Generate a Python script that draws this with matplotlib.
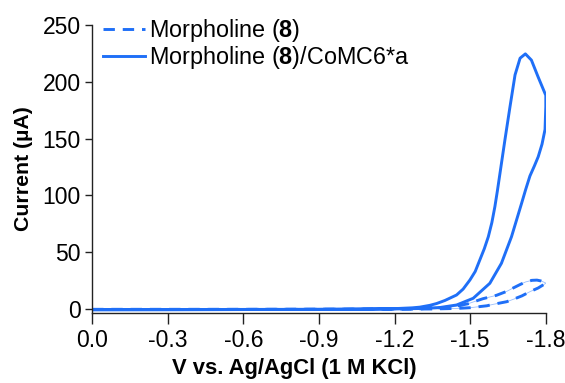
import matplotlib
matplotlib.use("Agg")
import matplotlib.pyplot as plt

plt.rcParams['font.family'] = ['Liberation Sans', 'DejaVu Sans']
plt.rcParams['mathtext.fontset'] = 'custom'
plt.rcParams['mathtext.rm'] = 'Liberation Sans'
plt.rcParams['mathtext.bf'] = 'Liberation Sans:bold'

# CV with catalyst (solid): forward scan to -1.8 V then return scan
v_cat = [0.0, -0.3, -0.6, -0.9, -1.1, -1.2, -1.27, -1.30, -1.34, -1.367, -1.40, -1.446, -1.472,
         -1.499, -1.52, -1.538, -1.556, -1.572, -1.586, -1.598, -1.608, -1.618, -1.638, -1.658,
         -1.678, -1.698, -1.719, -1.743, -1.769, -1.8,
         -1.8, -1.797, -1.785, -1.77, -1.755, -1.737, -1.72, -1.704, -1.664, -1.624, -1.578,
         -1.512, -1.446, -1.38, -1.30, -1.2, -1.0, -0.6, -0.3, 0.0]
i_cat = [-0.5, -0.5, -0.4, -0.3, 0.0, 0.3, 1.0, 1.6, 3.2, 4.8, 7.5, 12.3, 17.5,
         25.5, 33.0, 43.0, 53.0, 63.6, 76.0, 90.0, 104.0, 119.0, 149.0, 178.0,
         206.0, 220.7, 224.5, 219.0, 204.5, 188.0,
         178.0, 158.0, 145.0, 134.0, 126.0, 117.0, 105.0, 93.0, 63.6, 40.2, 22.6,
         9.4, 3.5, 1.3, 0.4, 0.0, -0.3, -0.5, -0.7, -0.8]

# CV of morpholine alone (dashed)
v_morph = [0.0, -0.6, -1.0, -1.3, -1.38, -1.433, -1.49, -1.55, -1.604, -1.645, -1.671, -1.698,
           -1.72, -1.745, -1.765, -1.78, -1.797, -1.8,
           -1.77, -1.737, -1.705, -1.671, -1.645, -1.592, -1.566, -1.499, -1.45, -1.35, -1.0, 0.0]
i_morph = [-0.3, -0.3, -0.2, 0.2, 1.0, 2.0, 4.5, 9.0, 12.0, 15.5, 18.5, 21.5,
           23.8, 25.2, 25.4, 24.7, 23.2, 22.6,
           18.5, 15.2, 11.5, 8.5, 6.4, 4.1, 2.8, 1.1, 0.5, 0.0, -0.3, -0.5]

labels = [r'Morpholine ($\mathbf{8}$)', r'Morpholine ($\mathbf{8}$)/CoMC6*a']
xticks = [0.0, -0.3, -0.6, -0.9, -1.2, -1.5, -1.8]
yticks = [0, 50, 100, 150, 200, 250]

blue = '#1f6ff7'
fs = 16.5

fig = plt.figure(figsize=(5.65, 3.83), dpi=100)
ax = fig.add_axes([0.163, 0.182, 0.803, 0.753])

ax.plot(v_morph, i_morph, color=blue, lw=0.6, alpha=0.45)
ax.plot(v_morph, i_morph, color=blue, lw=2.1, linestyle=(0, (3.9, 2.7)), label=labels[0])
ax.plot(v_cat, i_cat, color=blue, lw=2.1, label=labels[1])

ax.set_xlim(0.0, -1.8)
ax.set_ylim(-3.8, 250)
ax.set_xticks(xticks)
ax.set_xticklabels(['%.1f' % x for x in xticks])
ax.set_yticks(yticks)

for s in ['top', 'right']:
    ax.spines[s].set_visible(False)
for s in ['left', 'bottom']:
    ax.spines[s].set_linewidth(1.0)
    ax.spines[s].set_color('#222222')

ax.tick_params(axis='x', length=8, width=1.0, direction='out', labelsize=fs, pad=3, colors='#222222', labelcolor='black')
ax.tick_params(axis='y', length=5, width=1.0, direction='out', labelsize=fs, pad=3, colors='#222222', labelcolor='black')

ax.set_xlabel('V vs. Ag/AgCl (1 M KCl)', fontsize=15.8, fontweight='bold', labelpad=5)
ax.xaxis.set_label_coords(0.445, -0.155)
ax.set_ylabel('Current (µA)', fontsize=15.3, fontweight='bold', labelpad=7)

h, l = ax.get_legend_handles_labels()
ax.legend(h, l, loc='upper left', bbox_to_anchor=(0.0, 1.064), frameon=False,
          fontsize=16.8, handlelength=1.8, handletextpad=0.2, labelspacing=0.0, borderaxespad=0.05)

plt.savefig('out.png', dpi=100)
